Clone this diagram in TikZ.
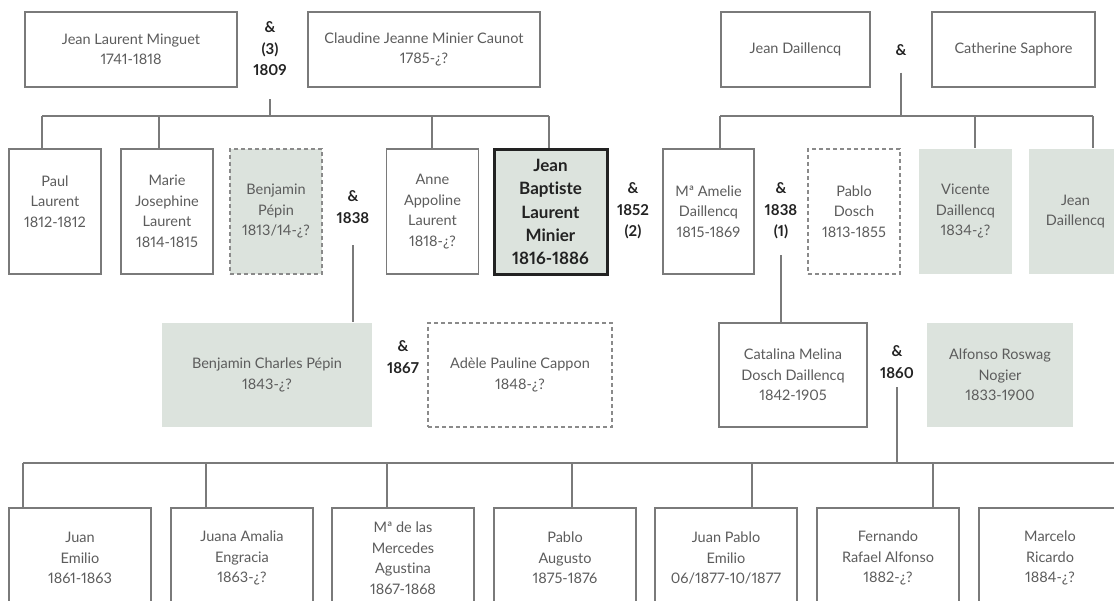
\documentclass[tikz,border=0pt]{standalone}
\usepackage{fontspec}
\setmainfont{Lato}[Numbers=Proportional,Ligatures=NoCommon]
\usetikzlibrary{positioning,calc}
\definecolor{treeLine}{HTML}{7A7A7A}
\definecolor{treeDash}{HTML}{8A8A8A}
\definecolor{treeText}{HTML}{5C5C5C}
\definecolor{treeSage}{HTML}{DCE3DD}
\definecolor{treeInk}{HTML}{222222}

\begin{document}
\begin{tikzpicture}[x=1pt,y=-1pt,
    person/.style={draw=treeLine,line width=1.4pt,fill=white,text=treeText,align=center,inner sep=0pt,
      font=\fontsize{14.5}{20.5}\selectfont},
    elder/.style={person,minimum height=75pt},
    kid/.style={person,minimum width=92pt,minimum height=125pt},
    grandkid/.style={person,minimum width=142pt,minimum height=100pt},
    inlaw/.style={draw=treeDash,dash pattern=on 4pt off 3pt},
    sage/.style={fill=treeSage,draw=none},
    root/.style={fill=treeSage,draw=treeInk,line width=3pt,text=treeInk,
      font=\bfseries\fontsize{17}{23.2}\selectfont},
    union/.style={text=treeInk,align=center,inner sep=0pt,font=\bfseries\fontsize{15}{21.5}\selectfont},
    link/.style={draw=treeLine,line width=1.4pt}]
  \clip (0,0) rectangle (1114,601);

  % grandparents
  \node[elder,minimum width=212pt] (minguet) at (131,49.5) {Jean Laurent Minguet\\1741-1818};
  \node[union] (u1809) at (270,49) {\&\\(3)\\1809};
  \node[elder,minimum width=232pt] (claudine) at (424,49.5) {Claudine Jeanne Minier Caunot\\1785-¿?};
  \node[elder,minimum width=149pt] (daillencq) at (795.5,49.5) {Jean Daillencq};
  \node[union] (uDail) at (901,50) {\&};
  \node[elder,minimum width=163pt] (saphore) at (1013.5,49.5) {Catherine Saphore};

  % children
  \node[kid] (paul) at (55,211.5) {Paul\\Laurent\\1812-1812\\~};
  \node[kid] (marie) at (167,211.5) {Marie\\Josephine\\Laurent\\1814-1815};
  \node[kid,sage,inlaw,draw=treeDash] (benjamin) at (276,211.5) {Benjamin\\Pépin\\1813/14-¿?};
  \node[union] (u1838a) at (353,207) {\&\\1838};
  \node[kid] (anne) at (432.5,211.5) {Anne\\Appoline\\Laurent\\1818-¿?};
  \node[kid,root,minimum width=113pt] (jb) at (550.5,212) {Jean\\Baptiste\\Laurent\\Minier\\1816-1886};
  \node[union] (u1852) at (633,211) {\&\\1852\\(2)};
  \node[kid,minimum width=91pt] (amelie) at (708.5,211.5) {Mª Amelie\\Daillencq\\1815-1869};
  \node[union] (u1838b) at (781,211) {\&\\1838\\(1)};
  \node[kid,inlaw] (pablo) at (854,211.5) {Pablo\\Dosch\\1813-1855};
  \node[kid,sage,minimum width=93pt] (vicente) at (965.5,211.5) {Vicente\\Daillencq\\1834-¿?};
  \node[kid,sage,minimum width=93pt] (jeanD) at (1075.5,211.5) {Jean\\Daillencq};

  % couples of the third row
  \node[person,sage,minimum width=210pt,minimum height=104pt] (bcp) at (267,375) {Benjamin Charles Pépin\\1843-¿?};
  \node[union] (u1867) at (403,357) {\&\\1867};
  \node[person,inlaw,minimum width=184pt,minimum height=104pt] (adele) at (520,375) {Adèle Pauline Cappon\\1848-¿?};
  \node[person,minimum width=148pt,minimum height=104pt] (catalina) at (793,375) {Catalina Melina\\Dosch Daillencq\\1842-1905};
  \node[union] (u1860) at (897,362) {\&\\1860};
  \node[person,sage,minimum width=146pt,minimum height=104pt] (alfonso) at (1000,375) {Alfonso Roswag\\Nogier\\1833-1900};

  % grandchildren
  \node[grandkid] (juan) at (80,558) {Juan\\Emilio\\1861-1863};
  \node[grandkid] (juana) at (242,558) {Juana Amalia\\Engracia\\1863-¿?};
  \node[grandkid] (mercedes) at (403,558) {Mª de las\\Mercedes\\Agustina\\1867-1868};
  \node[grandkid] (augusto) at (565,558) {Pablo\\Augusto\\1875-1876};
  \node[grandkid] (juanpablo) at (726,558) {Juan Pablo\\Emilio\\06/1877-10/1877};
  \node[grandkid] (fernando) at (888,558) {Fernando\\Rafael Alfonso\\1882-¿?};
  \node[grandkid] (marcelo) at (1050,558) {Marcelo\\Ricardo\\1884-¿?};

  % family bars
  \coordinate (dPaul) at (42,116);
  \coordinate (dMarie) at (159,116);
  \coordinate (dAnne) at (432,116);
  \coordinate (dJb) at (549,116);
  \coordinate (dAmelie) at (720,116);
  \coordinate (dVicente) at (975,116);
  \coordinate (dJeanD) at (1093,116);
  \coordinate (dJuan) at (23,463);
  \coordinate (dJuana) at (206,463);
  \coordinate (dMercedes) at (387,463);
  \coordinate (dAugusto) at (572,463);
  \coordinate (dJuanpablo) at (752,463);
  \coordinate (dFernando) at (933,463);
  \coordinate (barEnd) at (1120,463);

  \draw[link,shorten <=23pt] (u1809.south) -- (u1809.south |- dPaul);
  \draw[link] (dPaul) -- (dJb);
  \draw[link,shorten <=17pt] (uDail.south) -- (uDail.south |- dAmelie);
  \draw[link] (dAmelie) -- (dJeanD);
  \foreach \d/\n in {dPaul/paul,dMarie/marie,dAnne/anne,dJb/jb,dAmelie/amelie,dVicente/vicente,dJeanD/jeanD}
    \draw[link] (\d) -- (\d |- \n.north);

  \draw[link,shorten <=22pt] (u1838a.south) -- (u1838a.south |- bcp.north);
  \draw[link,shorten <=16pt] (u1838b.south) -- (u1838b.south |- catalina.north);
  \draw[link,shorten <=9pt] (u1860.south) -- (u1860.south |- dJuan);
  \draw[link] (dJuan) -- (barEnd);
  \foreach \d/\n in {dJuan/juan,dJuana/juana,dMercedes/mercedes,dAugusto/augusto,dJuanpablo/juanpablo,dFernando/fernando}
    \draw[link] (\d) -- (\d |- \n.north);
\end{tikzpicture}
\end{document}
